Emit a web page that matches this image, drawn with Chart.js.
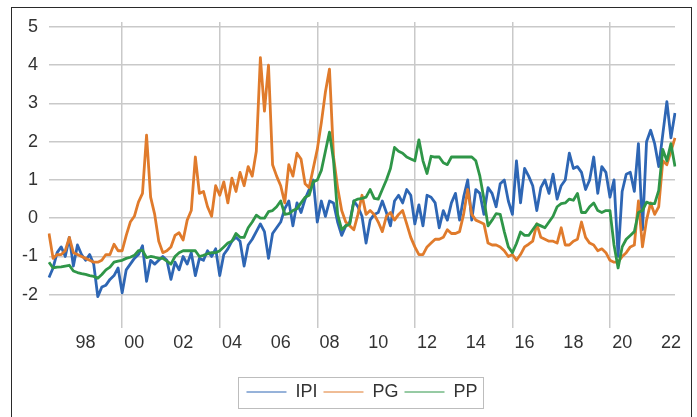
<!DOCTYPE html>
<html>
<head>
<meta charset="utf-8">
<script src="https://cdn.jsdelivr.net/npm/chart.js@4.4.1/dist/chart.umd.min.js"></script>
<style>
  html, body { margin: 0; padding: 0; background: #fff; }
  #wrap { position: relative; width: 697px; height: 417px; overflow: hidden; }
  #frame { position: absolute; left: 11px; top: 7px; width: 679px; height: 460px; border: 1px solid #2a2a2a; pointer-events: none; }
  canvas { position: absolute; left: 0; top: 0; }
</style>
</head>
<body>
<div id="wrap">
  <canvas id="chart" width="697" height="417"></canvas>
  <div id="frame"></div>
</div>
<script>
// bimonthly readings, Jul 1996 .. Mar 2022
const startYear = 1996, startMonth = 7, stepMonths = 2;

const ipi = [
  -1.55, -1.3, -0.9, -0.75, -1.0, -0.5, -1.25, -0.7, -0.95, -1.1, -0.95, -1.2,
  -2.05, -1.8, -1.75, -1.6, -1.5, -1.3, -1.95, -1.35, -1.2, -1.05, -0.95, -0.72,
  -1.65, -1.1, -1.2, -1.1, -1.0, -1.1, -1.6, -1.15, -1.35, -1.0, -1.2, -0.9,
  -1.5, -1.05, -1.1, -0.85, -1.0, -0.8, -1.5, -0.95, -0.8, -0.6, -0.5, -0.6,
  -1.25, -0.7, -0.55, -0.35, -0.15, -0.35, -1.05, -0.4, -0.25, -0.1, 0.25, 0.45,
  -0.2, 0.4, 0.15, 0.5, 0.75, 1.0, -0.1, 0.45, 0.05, 0.45, 0.4, -0.1,
  -0.45, -0.2, -0.1, 0.45, 0.3, 0.05, -0.65, -0.05, 0.1, 0.15, 0.45, 0.15,
  -0.2, 0.45, 0.6, 0.4, 0.75, 0.6, -0.15, 0.35, -0.2, 0.6, 0.55, 0.4,
  -0.25, 0.2, -0.05, 0.4, 0.65, -0.05, 0.55, 1.0, -0.05, 0.75, 0.65, 0.1,
  0.8, 0.65, 0.3, 0.9, 1.0, 0.45, 0.1, 1.5, 0.4, 1.3, 1.1, 0.85,
  0.2, 0.8, 1.0, 0.65, 1.15, 0.5, 0.85, 1.0, 1.7, 1.3, 1.35, 1.2,
  0.75, 1.0, 1.6, 0.65, 1.35, 1.2, 0.55, 1.0, -1.0, 0.7, 1.15, 1.2,
  0.7, 1.95, -0.3, 2.0, 2.3, 1.95, 1.35, 2.2, 3.05, 2.1, 2.75
];

const pg = [
  -0.4, -1.05, -0.95, -0.95, -0.85, -0.5, -0.9, -0.95, -1.0, -1.05, -1.1, -1.15,
  -1.15, -1.1, -0.95, -0.95, -0.68, -0.85, -0.85, -0.45, -0.1, 0.05, 0.42, 0.65,
  2.17, 0.55, 0.1, -0.6, -0.9, -0.85, -0.75, -0.45, -0.38, -0.57, -0.05, 0.2,
  1.6, 0.65, 0.7, 0.3, 0.05, 0.85, 0.6, 0.95, 0.4, 1.05, 0.7, 1.2,
  0.85, 1.35, 1.1, 1.75, 4.2, 2.8, 4.0, 1.4, 1.1, 0.85, 0.4, 1.4,
  1.1, 1.7, 1.55, 0.9, 0.8, 1.3, 1.8, 2.5, 3.3, 3.9, 1.6, 0.8,
  0.2, -0.1, -0.2, -0.3, 0.1, 0.6, 0.1, 0.2, 0.1, -0.1, -0.35, 0.05,
  0.15, -0.05, 0.1, 0.2, -0.15, -0.5, -0.75, -0.95, -0.95, -0.75, -0.65, -0.55,
  -0.55, -0.5, -0.3, -0.4, -0.4, -0.35, 0.1, 0.75, 0.1, -0.05, -0.1, -0.15,
  -0.65, -0.7, -0.7, -0.75, -0.85, -1.0, -0.95, -1.1, -0.95, -0.75, -0.68, -0.6,
  -0.15, -0.5, -0.55, -0.6, -0.6, -0.65, -0.25, -0.7, -0.7, -0.6, -0.55, -0.1,
  -0.5, -0.65, -0.7, -0.85, -0.8, -0.9, -1.1, -1.15, -1.15, -1.0, -0.9, -0.75,
  -0.7, 0.45, -0.75, -0.05, 0.4, 0.1, 0.3, 1.5, 1.4, 1.75, 2.1
];

const pp = [
  -1.15, -1.3, -1.28, -1.27, -1.25, -1.23, -1.38, -1.42, -1.45, -1.47, -1.5, -1.52,
  -1.57, -1.47, -1.35, -1.28, -1.15, -1.12, -1.1, -1.05, -1.02, -0.97, -0.85, -0.84,
  -1.03, -1.0, -1.02, -1.05, -1.05, -1.12, -1.2, -1.0, -0.9, -0.85, -0.85, -0.85,
  -0.85, -1.0, -0.97, -0.93, -0.9, -0.9, -0.85, -0.75, -0.65, -0.6, -0.4, -0.5,
  -0.5, -0.25, -0.1, 0.08, 0.0, 0.0, 0.17, 0.2, 0.3, 0.45, 0.1, 0.12,
  0.2, 0.25, 0.4, 0.55, 0.6, 0.95, 1.0, 1.25, 1.75, 2.25, 1.5, 0.1,
  -0.3, -0.2, -0.15, 0.45, 0.5, 0.52, 0.55, 0.75, 0.52, 0.5, 0.75, 1.0,
  1.3, 1.85, 1.75, 1.7, 1.6, 1.55, 1.5, 2.05, 1.5, 1.17, 1.62, 1.6,
  1.6, 1.45, 1.4, 1.6, 1.6, 1.6, 1.6, 1.6, 1.6, 1.5, 1.1, 0.5,
  -0.2, -0.05, 0.12, 0.1, -0.35, -0.75, -0.9, -0.66, -0.36, -0.45, -0.45, -0.3,
  -0.15, -0.2, -0.25, -0.1, 0.05, 0.3, 0.38, 0.4, 0.5, 0.47, 0.65, 0.15,
  0.15, 0.3, 0.4, 0.2, 0.15, 0.2, 0.2, -0.7, -1.3, -0.75, -0.55, -0.45,
  -0.35, 0.15, 0.2, 0.42, 0.38, 0.38, 0.73, 1.8, 1.5, 1.95, 1.35
];

const yTicks = [-2, -1, 0, 1, 2, 3, 4, 5];

// month labels "YYYY-MM"
const labels = [];
for (let i = 0; i < ipi.length; i++) {
  const mm = startMonth - 1 + i * stepMonths;
  const yr = startYear + Math.floor(mm / 12);
  const mo = (mm % 12) + 1;
  labels.push(yr + '-' + String(mo).padStart(2, '0'));
}

function parts(i) {
  const [yr, mo] = labels[i].split('-').map(Number);
  return { yr, mo };
}

const gridColor = '#c9c9c9';

const legendFrame = {
  id: 'legendFrame',
  afterDraw(chart) {
    const boxes = chart.legend && chart.legend.legendHitBoxes;
    if (!boxes || !boxes.length) return;
    const left = Math.min(...boxes.map(b => b.left));
    const right = Math.max(...boxes.map(b => b.left + b.width));
    const top = boxes[0].top, h = boxes[0].height;
    const ctx = chart.ctx;
    ctx.save();
    ctx.strokeStyle = '#bdbdbd';
    ctx.lineWidth = 1;
    ctx.strokeRect(Math.round(left - 8) + 0.5, Math.round(top - 6) + 0.5,
                   Math.round(right - left + 14), Math.round(h + 13));
    ctx.restore();
  }
};

Chart.defaults.font.family = "'Liberation Sans', Arial, sans-serif";
Chart.defaults.color = '#333';

new Chart(document.getElementById('chart'), {
  type: 'line',
  data: {
    labels: labels,
    datasets: [
      { label: 'IPI', data: ipi, borderColor: '#2e66b4', backgroundColor: '#2e66b4', order: 3 },
      { label: 'PG', data: pg, borderColor: '#e07b2c', backgroundColor: '#e07b2c', order: 2 },
      { label: 'PP', data: pp, borderColor: '#2f9648', backgroundColor: '#2f9648', order: 1 }
    ]
  },
  options: {
    responsive: false,
    animation: false,
    events: [],
    elements: {
      line: { borderWidth: 2.8, tension: 0, borderJoinStyle: 'round' },
      point: { radius: 0 }
    },
    layout: { padding: { left: 0, right: 22, top: 22, bottom: 6 } },
    scales: {
      x: {
        type: 'category',
        border: { display: false },
        grid: {
          drawTicks: false,
          lineWidth: 1.5,
          color: (ctx) => {
            const i = ctx.index;
            if (i == null || i >= labels.length) return 'rgba(0,0,0,0)';
            const p = parts(i);
            return (p.mo === 7 && (p.yr - 1999) % 4 === 0) ? gridColor : 'rgba(0,0,0,0)';
          }
        },
        ticks: {
          autoSkip: false,
          maxRotation: 0,
          minRotation: 0,
          padding: 4,
          font: { size: 18 },
          color: '#333',
          callback: (value, index) => {
            const p = parts(index);
            return (p.mo === 1 && p.yr % 2 === 0) ? String(p.yr).slice(2) : '';
          }
        },
        afterFit: (scale) => { scale.height = 49; }
      },
      y: {
        min: -2.87,
        max: 5.13,
        border: { display: false },
        grid: { drawTicks: false, color: gridColor, lineWidth: 1.5 },
        ticks: { padding: 11, font: { size: 18 }, color: '#333' },
        afterBuildTicks: (scale) => { scale.ticks = yTicks.map(v => ({ value: v })); },
        afterFit: (scale) => { scale.width = 49; }
      }
    },
    plugins: {
      tooltip: { enabled: false },
      legend: {
        position: 'bottom',
        fullSize: false,
        labels: {
          usePointStyle: true,
          pointStyle: 'line',
          pointStyleWidth: 40,
          padding: 6,
          font: { size: 18 },
          color: '#333',
          sort: (a, b) => a.datasetIndex - b.datasetIndex
        }
      }
    }
  },
  plugins: [legendFrame]
});
</script>
</body>
</html>
